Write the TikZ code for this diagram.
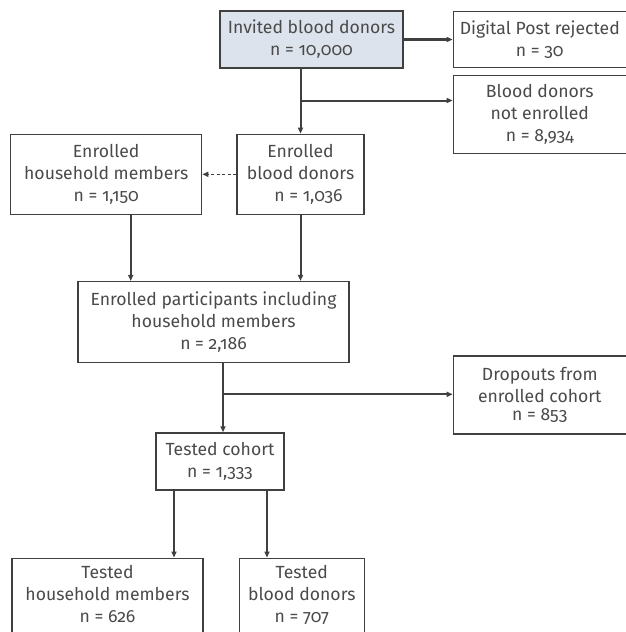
\documentclass[tikz,border=0pt]{standalone}
\usepackage{fontspec}
\setmainfont[Numbers=OldStyle]{Fira Sans}
\usepackage{tikz}
\usetikzlibrary{positioning, arrows.meta, calc}
\definecolor{flowText}{HTML}{4A4A4A}
\definecolor{flowLine}{HTML}{404040}
\definecolor{flowFill}{HTML}{DDE3EC}
\tikzstyle{flowbox} =[draw=flowLine, line width=1.3pt, align=center, inner sep=0pt, text=flowText, font=\fontsize{17.6}{22}\selectfont]
\tikzstyle{flowarrow} =[-{Triangle[length=6pt, width=5pt]}, line width=2pt, flowLine]

\begin{document}
\begin{tikzpicture}[x=1pt, y=1pt]
\clip (0,0) rectangle (626,-632);

\node (invited) [flowbox, fill=flowFill, minimum width=183pt, minimum height=57pt] at (311.5,-39.5) {Invited blood donors\\n = 10,000};
\node (rejected) [flowbox, minimum width=173pt, minimum height=56pt, right=49pt of invited] {Digital Post rejected\\n = 30};
\node (notEnrolled) [flowbox, minimum width=173pt, minimum height=78pt, below=7pt of rejected] {Blood donors\\not enrolled\\n = 8,934};

\node (enrDonors) [flowbox, minimum width=127pt, minimum height=80pt, below=65pt of invited, xshift=-11pt] {Enrolled\\blood donors\\\hspace*{16pt}n = 1,036};
\node (enrHousehold) [flowbox, minimum width=191pt, minimum height=80pt, left=34pt of enrDonors] {Enrolled\\household members\\n = 1,150};

\node (participants) [flowbox, minimum width=271pt, minimum height=81pt, below=66pt of enrDonors, xshift=-87pt] {Enrolled participants including\\household members\\n = 2,186};
\node (dropouts) [flowbox, minimum width=173pt, minimum height=78pt, below=201pt of notEnrolled] {Dropouts from\\enrolled cohort\\[-4pt]n = 853};

\node (tested) [flowbox, minimum width=128pt, minimum height=57pt, below=69pt of participants, xshift=6.5pt] {Tested cohort\\n = 1,333};
\node (testedHousehold) [flowbox, minimum width=191pt, minimum height=100pt, text depth=28pt, below=67pt of tested, xshift=-112.5pt] {Tested\\household members\\n = 626};
\node (testedDonors) [flowbox, minimum width=125pt, minimum height=100pt, text depth=28pt, right=35pt of testedHousehold] {Tested\\blood donors\\n = 707};

\coordinate (splitInvited) at ($(invited.south -| enrDonors.north)!0.49!(enrDonors.north)$);
\coordinate (splitParticipants) at ($([xshift=3pt]tested.north |- participants.south)!0.45!([xshift=3pt]tested.north)$);

\draw[flowarrow, line width=2.6pt]
	(invited.east) -- (invited.east -| rejected.west);

\draw[flowarrow]
	(invited.south -| enrDonors.north) -- (enrDonors.north);

\draw[flowarrow]
	(splitInvited) -- (splitInvited -| notEnrolled.west);

\draw[flowarrow, dash pattern=on 3pt off 2.5pt, line width=1.5pt]
	(enrDonors.west) -- (enrHousehold.east);

\draw[flowarrow]
	([xshift=24.5pt]enrHousehold.south) -- ([xshift=24.5pt]enrHousehold.south |- participants.north);

\draw[flowarrow]
	(enrDonors.south) -- (enrDonors.south |- participants.north);

\draw[flowarrow]
	([xshift=3pt]tested.north |- participants.south) -- ([xshift=3pt]tested.north);

\draw[flowarrow]
	(splitParticipants) -- (splitParticipants -| dropouts.west);

\draw[flowarrow]
	([xshift=-46pt]tested.south) -- ([xshift=-46pt]tested.south |- testedHousehold.north);

\draw[flowarrow]
	([xshift=47pt]tested.south) -- ([xshift=47pt]tested.south |- testedDonors.north);
\end{tikzpicture}
\end{document}
